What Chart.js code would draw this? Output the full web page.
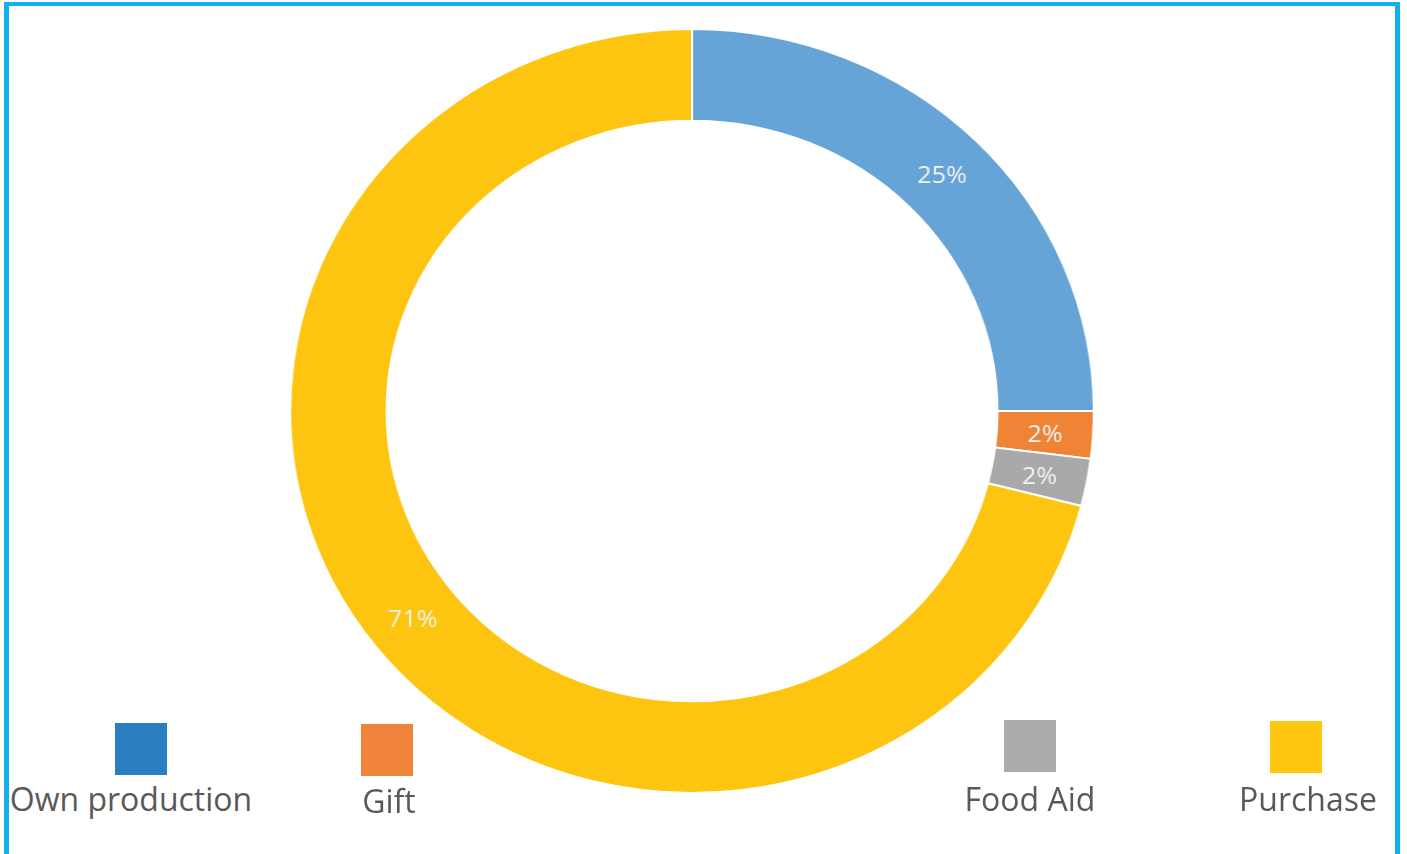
<!DOCTYPE html>
<html>
<head>
<meta charset="utf-8">
<script src="https://cdn.jsdelivr.net/npm/chart.js@4.4.1/dist/chart.umd.min.js"></script>
<style>
  html, body { margin: 0; padding: 0; background: #fff; overflow: hidden; }
  body { width: 1407px; height: 854px; position: relative; font-family: 'Open Sans', sans-serif; }
  .frame {
    position: absolute; left: 4px; top: 2px; width: 1396px; height: 900px;
    border: 5px solid #12aef0; border-top-width: 4px; box-sizing: border-box;
  }
  .ring {
    position: absolute; left: 309px; top: 28px; width: 766px; height: 766px;
    transform: scaleX(1.052); transform-origin: 50% 50%;
  }
  .key { position: absolute; }
  .key .swatch { position: absolute; width: 52px; height: 52px; }
  .key .name {
    position: absolute; width: 300px; margin-left: -150px; text-align: center;
    font-size: 32px; color: #595959; white-space: nowrap; line-height: 1;
  }
  .key:nth-child(1) .swatch { left: 115px; top: 723px; }
  .key:nth-child(1) .name { left: 131px; top: 783px; }
  .key:nth-child(2) .swatch { left: 361px; top: 724px; }
  .key:nth-child(2) .name { left: 389px; top: 785px; }
  .key:nth-child(3) .swatch { left: 1004px; top: 720px; }
  .key:nth-child(3) .name { left: 1030px; top: 783px; }
  .key:nth-child(4) .swatch { left: 1270px; top: 721px; }
  .key:nth-child(4) .name { left: 1308px; top: 783px; }
</style>
</head>
<body>
<div class="frame"></div>
<div class="ring"><canvas id="sources" aria-label="Food sources doughnut chart"></canvas></div>
<div id="keys"></div>
<script>
// food sources, share of households (%)
const categories = ['Own production', 'Gift', 'Food Aid', 'Purchase'];
const shares = [25, 2, 2, 71];
const sliceColors = ['#66a3d7', '#ef8436', '#a9a9a9', '#fdc50f'];
const keyColors = ['#2a7fc1', '#f0843a', '#ababab', '#fec60f'];

// legend under the ring
const keys = document.getElementById('keys');
categories.forEach((name, i) => {
  const item = document.createElement('div');
  item.className = 'key';
  item.innerHTML = '<div class="swatch"></div><div class="name"></div>';
  item.querySelector('.swatch').style.background = keyColors[i];
  item.querySelector('.name').textContent = name;
  keys.appendChild(item);
});

// percentage text in the middle of each arc
const sliceLabels = {
  id: 'sliceLabels',
  afterDatasetsDraw(chart) {
    const ctx = chart.ctx;
    const meta = chart.getDatasetMeta(0);
    ctx.save();
    ctx.font = "24px 'Open Sans'";
    ctx.fillStyle = '#f4f4f4';
    ctx.textAlign = 'center';
    ctx.textBaseline = 'middle';
    meta.data.forEach((arc, i) => {
      const p = arc.tooltipPosition();
      ctx.fillText(chart.data.datasets[0].data[i] + '%', p.x, p.y + 3);
    });
    ctx.restore();
  },
};

new Chart(document.getElementById('sources'), {
  type: 'doughnut',
  data: {
    labels: categories,
    datasets: [{
      data: shares,
      backgroundColor: sliceColors,
      borderColor: '#ffffff',
      borderWidth: 2,
    }],
  },
  options: {
    responsive: true,
    maintainAspectRatio: false,
    animation: false,
    cutout: '76%',
    layout: { padding: 0 },
    plugins: {
      legend: { display: false },
      tooltip: { enabled: false },
    },
  },
  plugins: [sliceLabels],
});
</script>
</body>
</html>
